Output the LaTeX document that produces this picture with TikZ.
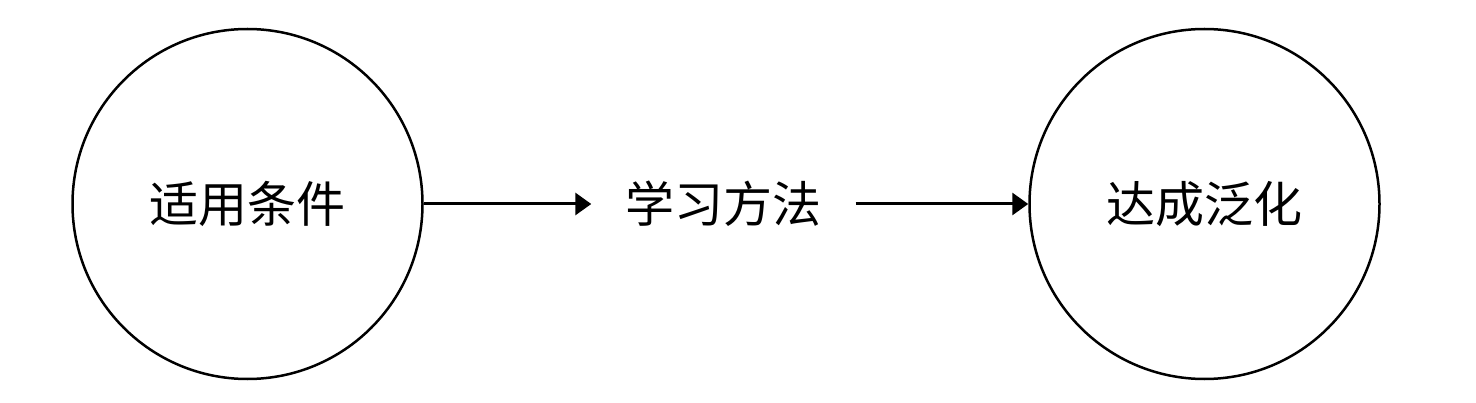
\documentclass[tikz,border=0pt]{standalone}
\usepackage{fontspec}
\newfontfamily\cjk{Noto Sans CJK SC}
\usetikzlibrary{arrows.meta}
\begin{document}
\begin{tikzpicture}[x=1pt,y=1pt,
  bigcircle/.style={circle,draw=black,line width=2.5pt,minimum size=350pt,inner sep=0pt,font=\cjk\fontsize{49}{58}\selectfont},
  midlabel/.style={inner xsep=34pt,inner ysep=0pt,font=\cjk\fontsize{49}{58}\selectfont},
  arr/.style={line width=3pt,-{Triangle[length=16pt,width=22pt]}}]
\useasboundingbox (0,0) rectangle (1476,402);
\node[bigcircle] (L) at (247.5,198) {适用条件};
\node[bigcircle] (R) at (1204.5,198) {达成泛化};
\node[midlabel] (M) at (723.5,198) {学习方法};
\draw[arr] (L.east) -- (M.west);
\draw[arr] (M.east) -- (R.west);
\end{tikzpicture}
\end{document}
